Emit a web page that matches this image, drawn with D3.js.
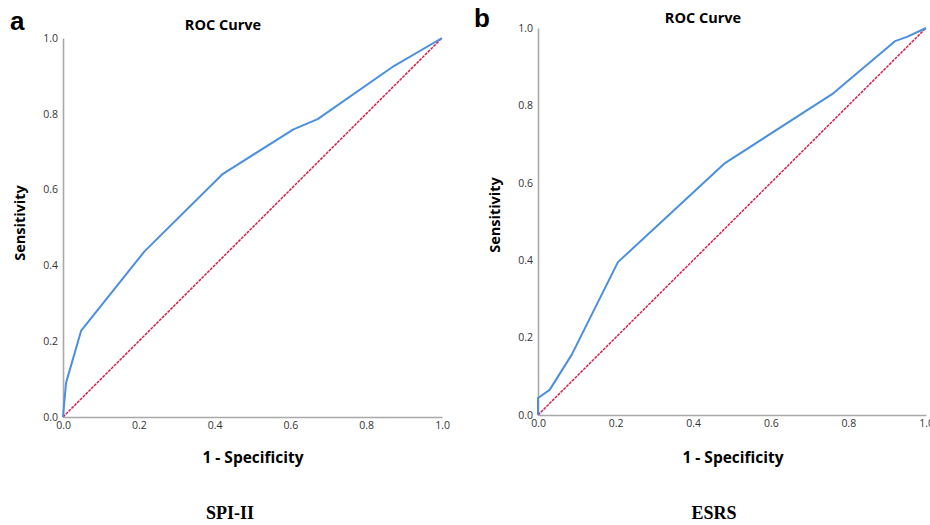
<!DOCTYPE html>
<html>
<head>
<meta charset="utf-8">
<script src="https://cdn.jsdelivr.net/npm/d3@7"></script>
<style>
  body { margin: 0; background: #fff; }
  svg { display: block; }
</style>
</head>
<body>
<div class="chart"></div>
<script>
// ROC curve points
const spiFpr = [0, 0.008, 0.048, 0.215, 0.42, 0.608, 0.672, 0.873, 1];
const spiTpr = [0, 0.09, 0.228, 0.437, 0.64, 0.759, 0.786, 0.926, 1];

const esrsFpr = [0, 0, 0.03, 0.087, 0.206, 0.482, 0.758, 0.92, 0.951, 1];
const esrsTpr = [0, 0.044, 0.065, 0.156, 0.395, 0.651, 0.829, 0.966, 0.977, 1];

const ticks = [0, 0.2, 0.4, 0.6, 0.8, 1.0];
const panelLetters = ["a", "b"];
const captions = ["SPI-II", "ESRS"];

const width = 930, height = 525;

const svg = d3.select(".chart").append("svg")
  .attr("width", width)
  .attr("height", height);

const panels = [
  { fpr: spiFpr, tpr: spiTpr, x0: 63, x1: 442, y0: 417, y1: 38,
    letter: [10, 30], title: [223, 30], ylab: [20, 223], xlab: [253, 463], cap: [230, 519] },
  { fpr: esrsFpr, tpr: esrsTpr, x0: 538, x1: 926, y0: 415, y1: 28,
    letter: [474, 27], title: [703, 23], ylab: [495, 215], xlab: [733, 463], cap: [714, 519] }
];

panels.forEach((p, i) => {
  const x = d3.scaleLinear().domain([0, 1]).range([p.x0, p.x1]);
  const y = d3.scaleLinear().domain([0, 1]).range([p.y0, p.y1]);
  const g = svg.append("g");

  // axes
  const xAxis = g.append("g")
    .attr("transform", `translate(0,${p.y0})`)
    .call(d3.axisBottom(x).tickValues(ticks).tickFormat(d3.format(".1f")).tickSize(0).tickPadding(6));
  const yAxis = g.append("g")
    .attr("transform", `translate(${p.x0},0)`)
    .call(d3.axisLeft(y).tickValues(ticks).tickFormat(d3.format(".1f")).tickSize(0).tickPadding(5));

  [xAxis, yAxis].forEach(a => {
    a.select(".domain").attr("stroke", "#a9a9a9").attr("stroke-width", 1.6);
    a.selectAll("text")
      .attr("font-family", "'Open Sans', sans-serif")
      .attr("font-size", 10.5)
      .attr("fill", "#333");
  });
  xAxis.selectAll("text").attr("dy", "0.55em");

  // reference diagonal
  g.append("line")
    .attr("x1", x(0)).attr("y1", y(0))
    .attr("x2", x(1)).attr("y2", y(1))
    .attr("stroke", "#d61f4c")
    .attr("stroke-width", 1.5)
    .attr("stroke-dasharray", "3,1");

  // ROC curve
  const pts = p.fpr.map((f, k) => [f, p.tpr[k]]);
  g.append("path")
    .datum(pts)
    .attr("fill", "none")
    .attr("stroke", "#4a8fe0")
    .attr("stroke-width", 2)
    .attr("stroke-linejoin", "round")
    .attr("d", d3.line().x(d => x(d[0])).y(d => y(d[1])));

  // texts
  g.append("text")
    .attr("x", p.letter[0]).attr("y", p.letter[1])
    .attr("font-family", "'Liberation Sans', Arial, sans-serif")
    .attr("font-weight", "bold")
    .attr("font-size", 26)
    .text(panelLetters[i]);

  g.append("text")
    .attr("x", p.title[0]).attr("y", p.title[1])
    .attr("text-anchor", "middle")
    .attr("font-family", "'Open Sans', sans-serif")
    .attr("font-weight", "bold")
    .attr("font-size", 14.5)
    .text("ROC Curve");

  g.append("text")
    .attr("transform", `translate(${p.ylab[0]},${p.ylab[1]}) rotate(-90)`)
    .attr("text-anchor", "middle")
    .attr("dy", "0.35em")
    .attr("font-family", "'Open Sans', sans-serif")
    .attr("font-weight", "bold")
    .attr("font-size", 14.5)
    .text("Sensitivity");

  g.append("text")
    .attr("x", p.xlab[0]).attr("y", p.xlab[1])
    .attr("text-anchor", "middle")
    .attr("font-family", "'Open Sans', sans-serif")
    .attr("font-weight", "bold")
    .attr("font-size", 15.5)
    .text("1 - Specificity");

  g.append("text")
    .attr("x", p.cap[0]).attr("y", p.cap[1])
    .attr("text-anchor", "middle")
    .attr("font-family", "'Liberation Serif', 'Times New Roman', serif")
    .attr("font-weight", "bold")
    .attr("font-size", 18)
    .text(captions[i]);
});
</script>
</body>
</html>
